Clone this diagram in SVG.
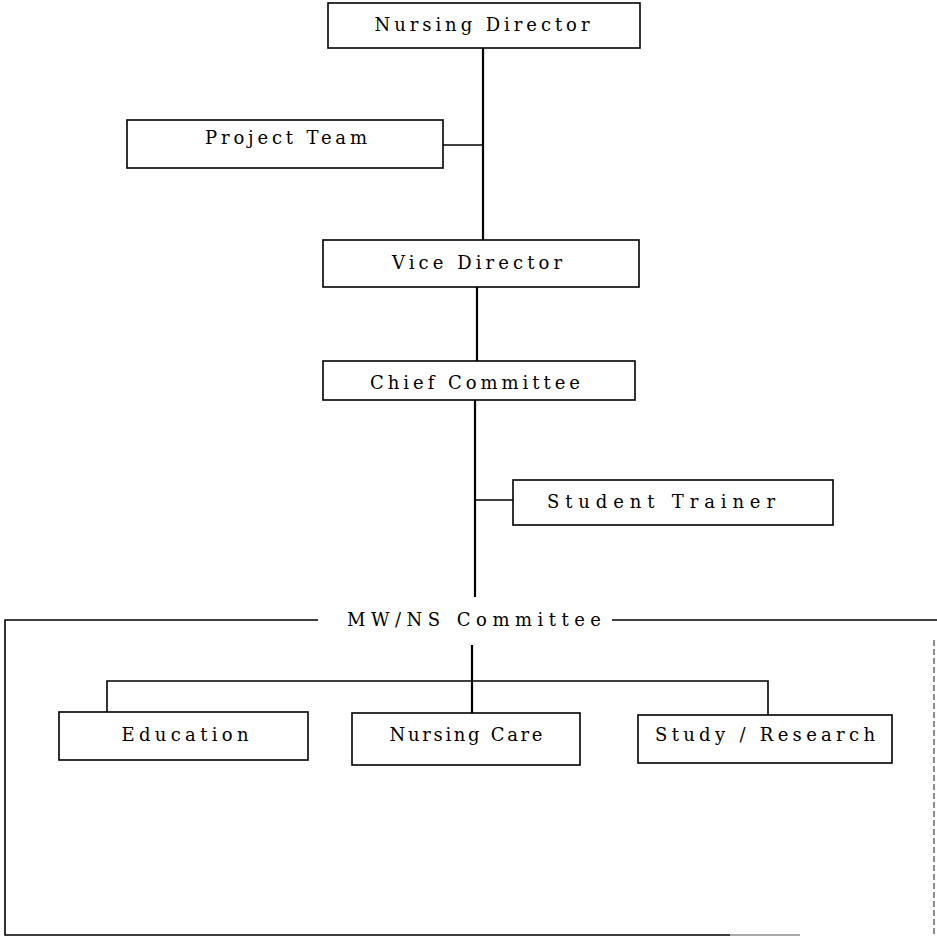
<svg xmlns="http://www.w3.org/2000/svg" width="937" height="945" viewBox="0 0 937 945">
<style>
.box{fill:#fff;stroke:#000;stroke-width:1.6}
.ln{fill:none;stroke:#000;stroke-width:1.6}
.lnt{fill:none;stroke:#000;stroke-width:2.2}
.t{font-family:"DejaVu Serif","Liberation Serif",serif;font-size:18px;fill:#000;text-anchor:middle}
</style>
<rect width="937" height="945" fill="#fff"/>
<g id="connectors">
<line class="lnt" x1="483" y1="48" x2="483" y2="240"/>
<line class="ln" x1="443" y1="145" x2="483" y2="145"/>
<line class="lnt" x1="477" y1="287" x2="477" y2="361"/>
<line class="lnt" x1="475" y1="400" x2="475" y2="597"/>
<line class="ln" x1="475" y1="500" x2="513" y2="500"/>
<line class="lnt" x1="472" y1="645" x2="472" y2="713"/>
<path class="ln" d="M107 712 V681 H768 V715"/>
</g>
<g id="mwns-committee">
<path class="ln" d="M318 620 H5 V935 H730"/>
<path fill="none" stroke="#555" stroke-width="1" d="M730 935 H800"/>
<path class="ln" d="M612 620 H937"/>
<path fill="none" stroke="#444" stroke-width="1.2" stroke-dasharray="6 3" d="M934 640 V935"/>
<text class="t" x="474" y="626" textLength="254" lengthAdjust="spacing">MW/NS Committee</text>
</g>
<g id="nursing-director">
<rect class="box" x="328" y="3" width="312" height="45"/>
<text class="t" x="482" y="31" textLength="215" lengthAdjust="spacing">Nursing Director</text>
</g>
<g id="project-team">
<rect class="box" x="127" y="120" width="316" height="48"/>
<text class="t" x="286" y="144" textLength="162" lengthAdjust="spacing">Project Team</text>
</g>
<g id="vice-director">
<rect class="box" x="323" y="240" width="316" height="47"/>
<text class="t" x="477" y="269" textLength="170" lengthAdjust="spacing">Vice Director</text>
</g>
<g id="chief-committee">
<rect class="box" x="323" y="361" width="312" height="39"/>
<text class="t" x="475" y="389" textLength="210" lengthAdjust="spacing">Chief Committee</text>
</g>
<g id="student-trainer">
<rect class="box" x="513" y="480" width="320" height="45"/>
<text class="t" x="661" y="508" textLength="228" lengthAdjust="spacing">Student Trainer</text>
</g>
<g id="education">
<rect class="box" x="59" y="712" width="249" height="48"/>
<text class="t" x="185" y="741" textLength="127" lengthAdjust="spacing">Education</text>
</g>
<g id="nursing-care">
<rect class="box" x="352" y="713" width="228" height="52"/>
<text class="t" x="466" y="741" textLength="153" lengthAdjust="spacing">Nursing Care</text>
</g>
<g id="study-research">
<rect class="box" x="638" y="715" width="254" height="48"/>
<text class="t" x="765" y="741" textLength="220" lengthAdjust="spacing">Study / Research</text>
</g>
</svg>
